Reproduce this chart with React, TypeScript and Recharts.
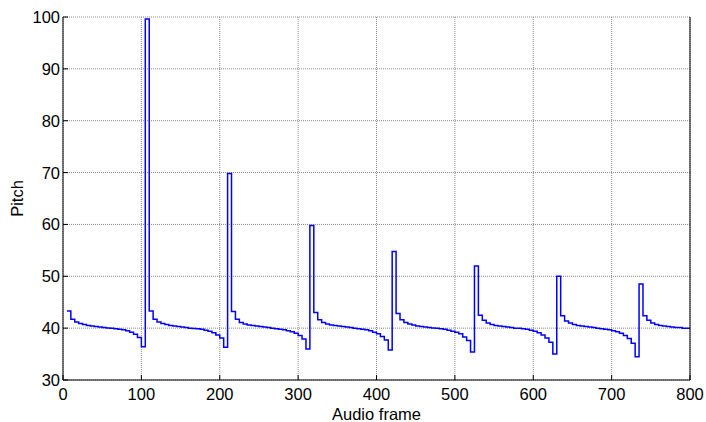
import { CartesianGrid, Line, LineChart, XAxis, YAxis } from 'recharts';

// frame where each decay run starts; steps are 5 frames wide
const segmentStarts = [5, 110, 215, 320, 425, 530, 635, 740];

const seg1 = [43.3, 41.7, 41.2, 40.9, 40.7, 40.5, 40.4, 40.3, 40.2, 40.1, 40.05, 40.0, 39.9, 39.8, 39.7, 39.5, 39.2, 38.8, 38.2, 36.4];
const seg2 = [43.3, 41.7, 41.2, 40.9, 40.7, 40.5, 40.4, 40.3, 40.2, 40.1, 40.0, 39.95, 39.9, 39.8, 39.6, 39.4, 39.1, 38.7, 38.1, 36.3];
const seg3 = [43.2, 41.7, 41.1, 40.8, 40.6, 40.5, 40.4, 40.3, 40.2, 40.1, 40.0, 39.9, 39.8, 39.7, 39.5, 39.3, 39.0, 38.6, 37.9, 36.0];
const seg4 = [43.0, 41.6, 41.1, 40.8, 40.6, 40.5, 40.4, 40.3, 40.2, 40.1, 40.0, 39.9, 39.8, 39.7, 39.5, 39.2, 38.9, 38.4, 37.7, 35.8];
const seg5 = [42.8, 41.6, 41.1, 40.8, 40.6, 40.4, 40.3, 40.2, 40.1, 40.05, 40.0, 39.9, 39.8, 39.6, 39.4, 39.2, 38.9, 38.3, 37.6, 35.4];
const seg6 = [42.5, 41.5, 41.0, 40.7, 40.5, 40.4, 40.3, 40.2, 40.1, 40.0, 40.0, 39.9, 39.8, 39.6, 39.4, 39.1, 38.7, 38.1, 37.3, 35.0];
const seg7 = [42.4, 41.4, 41.0, 40.7, 40.5, 40.4, 40.3, 40.2, 40.1, 40.0, 39.9, 39.8, 39.7, 39.5, 39.3, 39.0, 38.6, 38.0, 37.1, 34.5];
const seg8 = [42.4, 41.5, 41.0, 40.7, 40.5, 40.4, 40.3, 40.2, 40.1, 40.1, 40.0, 40.0];
const segments = [seg1, seg2, seg3, seg4, seg5, seg6, seg7, seg8];

const spikeFrames = [105, 210, 315, 420, 525, 630, 735];
const spikeValues = [99.6, 69.8, 59.8, 54.8, 52.0, 50.0, 48.5];

const lastFrame = 800;
const lastValue = 40.0;

const xTicks = [0, 100, 200, 300, 400, 500, 600, 700, 800];
const yTicks = [30, 40, 50, 60, 70, 80, 90, 100];

const data: { frame: number; pitch: number }[] = [];
segments.forEach((seg, i) => {
  seg.forEach((v, k) => data.push({ frame: segmentStarts[i] + 5 * k, pitch: v }));
  if (i < spikeFrames.length) data.push({ frame: spikeFrames[i], pitch: spikeValues[i] });
});
data.push({ frame: lastFrame, pitch: lastValue });

const font = '"Liberation Sans", Arial, sans-serif';

const BottomTick = (props: any) => {
  const { x, y, payload } = props;
  return (
    <g>
      <line x1={x} y1={y} x2={x} y2={y - 5} stroke="#000" />
      <text x={x} y={y + 20} textAnchor="middle" fontSize={16.5} fontFamily={font} fill="#000">
        {payload.value}
      </text>
    </g>
  );
};

const TopTick = (props: any) => {
  const { x, y } = props;
  return <line x1={x} y1={y} x2={x} y2={y + 5} stroke="#000" />;
};

const LeftTick = (props: any) => {
  const { x, y, payload } = props;
  return (
    <g>
      <line x1={x} y1={y} x2={x + 5} y2={y} stroke="#000" />
      <text x={x - 3} y={y + 6} textAnchor="end" fontSize={16.5} fontFamily={font} fill="#000">
        {payload.value}
      </text>
    </g>
  );
};

const RightTick = (props: any) => {
  const { x, y } = props;
  return <line x1={x} y1={y} x2={x - 5} y2={y} stroke="#000" />;
};

const PitchLabel = (props: any) => {
  const { viewBox } = props;
  const cx = viewBox.x + 17;
  const cy = viewBox.y + viewBox.height / 2;
  return (
    <text
      x={cx}
      y={cy}
      transform={`rotate(-90 ${cx} ${cy})`}
      textAnchor="middle"
      dominantBaseline="central"
      fontSize={16.5}
      fontFamily={font}
      fill="#000"
    >
      Pitch
    </text>
  );
};

export default function App() {
  return (
    <div style={{ position: 'absolute', left: 0, top: 0, background: '#fff' }}>
      <LineChart width={706} height={422} data={data} margin={{ top: 17, right: 0, bottom: 0, left: 0 }}>
        <CartesianGrid xAxisId="bottom" yAxisId="left" stroke="#888" strokeDasharray="1 1" />
        <XAxis
          xAxisId="bottom"
          dataKey="frame"
          type="number"
          domain={[0, 800]}
          ticks={xTicks}
          interval={0}
          height={42}
          tickSize={0}
          tickMargin={0}
          tickLine={false}
          axisLine={{ stroke: '#000' }}
          tick={BottomTick}
          label={{ value: 'Audio frame', position: 'insideBottom', offset: 2, fontSize: 16.5, fontFamily: font, fill: '#000' }}
        />
        <XAxis
          xAxisId="top"
          orientation="top"
          dataKey="frame"
          type="number"
          domain={[0, 800]}
          ticks={xTicks}
          interval={0}
          height={0}
          tickSize={0}
          tickMargin={0}
          tickLine={false}
          axisLine={{ stroke: '#000' }}
          tick={TopTick}
        />
        <YAxis
          yAxisId="left"
          type="number"
          domain={[30, 100]}
          ticks={yTicks}
          interval={0}
          width={63}
          tickSize={0}
          tickMargin={0}
          tickLine={false}
          axisLine={{ stroke: '#000' }}
          tick={LeftTick}
          label={<PitchLabel />}
        />
        <YAxis
          yAxisId="right"
          orientation="right"
          type="number"
          domain={[30, 100]}
          ticks={yTicks}
          interval={0}
          width={16}
          tickSize={0}
          tickMargin={0}
          tickLine={false}
          axisLine={{ stroke: '#000' }}
          tick={RightTick}
        />
        <Line
          xAxisId="bottom"
          yAxisId="left"
          type="stepAfter"
          dataKey="pitch"
          stroke="#0000ff"
          strokeWidth={1.5}
          dot={false}
          isAnimationActive={false}
        />
      </LineChart>
    </div>
  );
}
